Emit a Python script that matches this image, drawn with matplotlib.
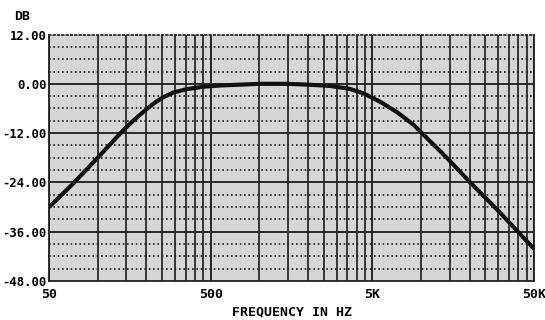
"""Frequency response plot: gain in dB against log frequency, 50 Hz to 50 kHz."""
import matplotlib
matplotlib.use("Agg")
import matplotlib.pyplot as plt
from matplotlib.ticker import FixedLocator, NullFormatter

# response readings
freq_hz = [50, 70, 100, 137, 150, 170, 200, 220, 250, 294, 355, 450, 570,
           1000, 1500, 2000, 2720, 3600, 4400, 5600, 7100, 9000, 10000,
           12900, 15000, 20000, 30000, 50000]
gain_db = [-30.0, -24.4, -18.0, -12.2, -10.6, -8.6, -6.2, -4.9, -3.4, -2.1, -1.3, -0.7, -0.4,
           0.0, 0.0, -0.2, -0.5, -1.2, -2.3, -4.4, -6.9, -10.0, -11.8,
           -16.1, -18.7, -23.9, -30.9, -40.2]

x_ticks = [50, 500, 5000, 50000]
x_tick_labels = ["50", "500", "5K", "50K"]
y_ticks = [-48, -36, -24, -12, 0, 12]
y_tick_labels = ["-48.00", "-36.00", "-24.00", "-12.00", "0.00", "12.00"]

FONT = dict(family="DejaVu Sans Mono", weight="bold", size=9.5)
YFONT = dict(FONT, size=8.8)

fig = plt.figure(figsize=(5.45, 3.2), dpi=100)
ax = fig.add_axes([0.09, 0.122, 0.89, 0.77])
ax.set_facecolor("#d6d6d6")

ax.set_xscale("log")
ax.set_xlim(50, 50000)
ax.set_ylim(-48, 12)

# vertical rulings at every 50*10^k*n
v_lines = [50 * 10 ** k * n for k in range(3) for n in range(1, 11)]
for f in v_lines:
    ax.axvline(f, color="#2a2a2a", lw=1.3, zorder=1)

# horizontal rulings: solid every 12 dB, dotted every 3 dB
for db in range(-45, 12, 3):
    if db % 12 == 0:
        ax.axhline(db, color="#1e1e1e", lw=1.3, zorder=1)
    else:
        ax.axhline(db, color="#1e1e1e", lw=1.2, ls=(0, (1, 1.6)), zorder=1)

ax.plot(freq_hz, gain_db, color="#111111", lw=3.0, solid_capstyle="butt",
        solid_joinstyle="round", zorder=3)

ax.xaxis.set_major_locator(FixedLocator(x_ticks))
ax.xaxis.set_minor_locator(FixedLocator([]))
ax.xaxis.set_minor_formatter(NullFormatter())
ax.set_xticklabels(x_tick_labels, **FONT)
ax.set_yticks(y_ticks)
ax.set_yticklabels(y_tick_labels, **YFONT)
ax.tick_params(length=0, pad=1.5)
ax.tick_params(axis="x", pad=5)

for side in ("left", "bottom", "right"):
    ax.spines[side].set_color("#1e1e1e")
    ax.spines[side].set_linewidth(1.3)
ax.spines["top"].set_linestyle((0, (1, 1.6)))
ax.spines["top"].set_linewidth(1.2)
ax.spines["top"].set_color("#1e1e1e")

ax.set_xlabel("FREQUENCY IN HZ", labelpad=3, **FONT)
fig.text(22 / 545, 1 - 17 / 320, "DB", ha="center", va="center", **FONT)

fig.savefig("out.png", dpi=100)
